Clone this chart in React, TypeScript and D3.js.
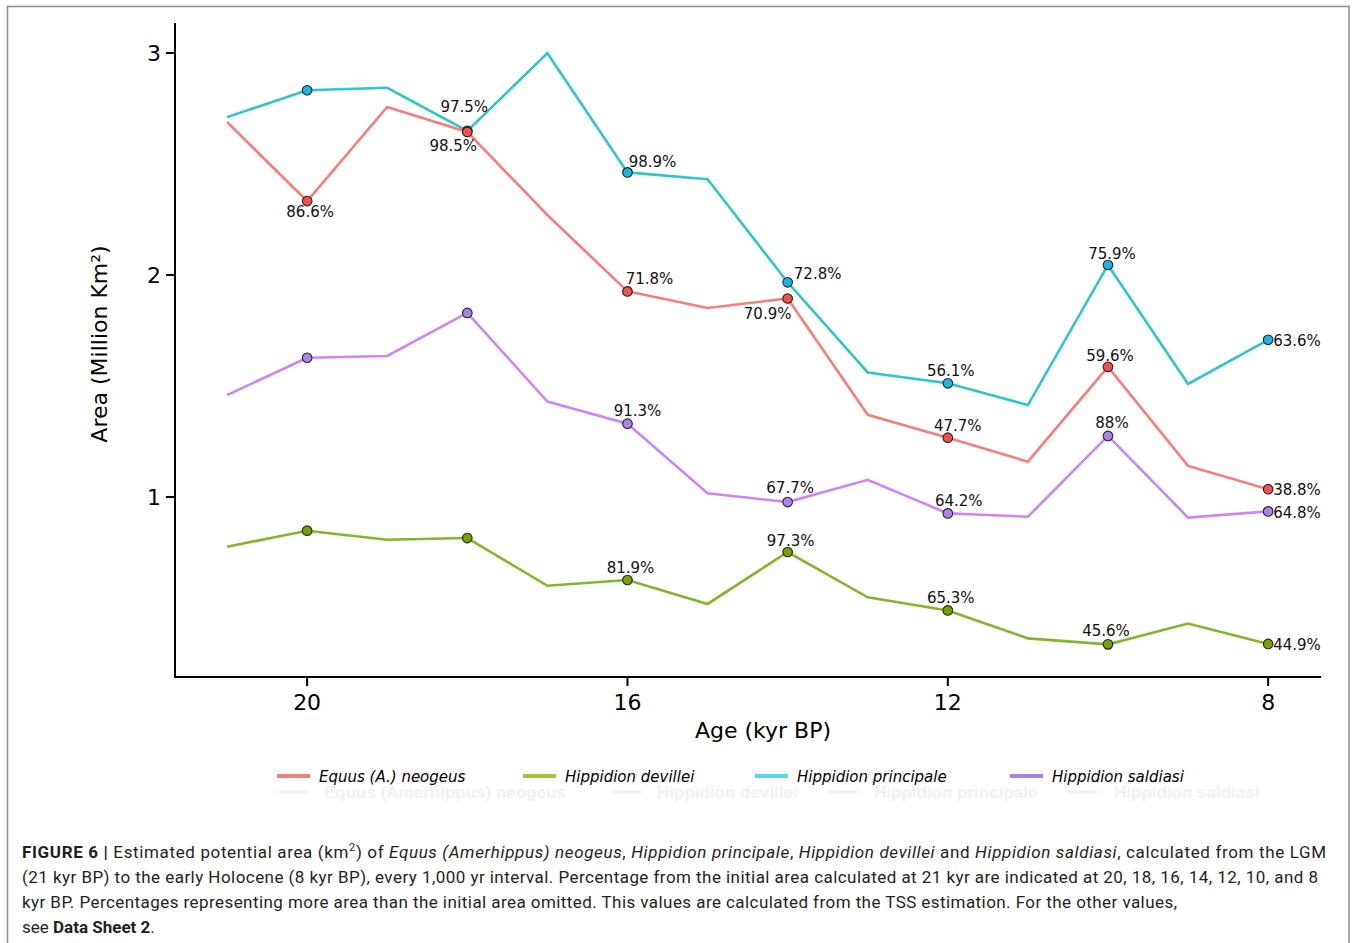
import React from "react";
import * as d3 from "d3";

// ---------- data ----------
const ages = [21, 20, 19, 18, 17, 16, 15, 14, 13, 12, 11, 10, 9, 8];
const equusNeogeus = [2.689, 2.333, 2.757, 2.644, 2.27, 1.926, 1.851, 1.894, 1.37, 1.267, 1.159, 1.586, 1.14, 1.035];
const hippidionDevillei = [0.776, 0.848, 0.807, 0.815, 0.6, 0.626, 0.518, 0.752, 0.548, 0.489, 0.363, 0.336, 0.43, 0.338];
const hippidionPrincipale = [2.711, 2.832, 2.843, 2.649, 2.999, 2.462, 2.431, 1.967, 1.561, 1.512, 1.414, 2.045, 1.509, 1.708];
const hippidionSaldiasi = [1.459, 1.627, 1.635, 1.829, 1.43, 1.33, 1.017, 0.977, 1.077, 0.926, 0.911, 1.275, 0.907, 0.935];

const markerAges = [20, 18, 16, 14, 12, 10, 8];
const equusPct = ["86.6%", "98.5%", "71.8%", "70.9%", "47.7%", "59.6%", "38.8%"];
const principalePct = ["", "97.5%", "98.9%", "72.8%", "56.1%", "75.9%", "63.6%"];
const saldiasiPct = ["", "", "91.3%", "67.7%", "64.2%", "88%", "64.8%"];
const devilleiPct = ["", "", "81.9%", "97.3%", "65.3%", "45.6%", "44.9%"];

const xTicks = [20, 16, 12, 8];
const yTicks = [1, 2, 3];
const legendNames = ["Equus (A.) neogeus", "Hippidion devillei", "Hippidion principale", "Hippidion saldiasi"];
const ghostLegendNames = ["Equus (Amerhippus) neogeus", "Hippidion devillei", "Hippidion principale", "Hippidion saldiasi"];

// ---------- label placement (offsets from marker, px) ----------
type Off = [number, number, string];
const equusOff: Off[] = [[3, 10, "middle"], [-14, 13.5, "middle"], [22, -12.5, "middle"], [-20, 15.5, "middle"], [10, -12.5, "middle"], [2, -11.5, "middle"], [5, 0, "start"]];
const principaleOff: Off[] = [[0, 0, "middle"], [-3, -24, "middle"], [25, -11, "middle"], [30, -8.5, "middle"], [3, -13, "middle"], [4, -11, "middle"], [5, 0.5, "start"]];
const saldiasiOff: Off[] = [[0, 0, "middle"], [0, 0, "middle"], [10, -13, "middle"], [2.5, -14.5, "middle"], [11, -13, "middle"], [4, -13, "middle"], [5, 0.8, "start"]];
const devilleiOff: Off[] = [[0, 0, "middle"], [0, 0, "middle"], [3, -12, "middle"], [3, -11.5, "middle"], [3, -12.7, "middle"], [-2, -14, "middle"], [5, 1, "start"]];

const FONT = "'DejaVu Sans', sans-serif";

const x = d3.scaleLinear().domain([21.65, 7.34]).range([175, 1321]);
const y = d3.scaleLinear().domain([0.189, 3.135]).range([677, 23]);

const series = [
  { key: "principale", values: hippidionPrincipale, line: "#2ec5cb", marker: "#1db5e6", pct: principalePct, off: principaleOff },
  { key: "equus", values: equusNeogeus, line: "#f67f76", marker: "#f24f4d", pct: equusPct, off: equusOff },
  { key: "saldiasi", values: hippidionSaldiasi, line: "#cc86f6", marker: "#a984ea", pct: saldiasiPct, off: saldiasiOff },
  { key: "devillei", values: hippidionDevillei, line: "#84b52a", marker: "#77a000", pct: devilleiPct, off: devilleiOff },
];

const legendColors = ["#f47d7d", "#a6c23a", "#5ad3f0", "#a284e0"];
const legendLineX = [277, 523, 755, 1010];
const ghostLineX = [278, 611, 828, 1068];

const lineGen = d3
  .line<number>()
  .x((_, i) => x(ages[i]))
  .y((v) => y(v));

const it = { fontStyle: "italic" as const };
const bold = { fontWeight: 700 as const };

export default function App() {
  return (
    <div style={{ position: "absolute", left: 0, top: 0 }}>
      <svg width={1357} height={943} style={{ display: "block", background: "#fff" }}>
        <rect x={7.5} y={6.5} width={1341.5} height={960} fill="#fff" stroke="#8c8c8c" strokeWidth={1.5} />

        {/* axes */}
        <line x1={175} x2={175} y1={23} y2={677} stroke="#000" strokeWidth={2} />
        <line x1={174} x2={1321} y1={677} y2={677} stroke="#000" strokeWidth={2} />
        {yTicks.map((t) => (
          <g key={"y" + t}>
            <line x1={166} x2={175} y1={y(t)} y2={y(t)} stroke="#000" strokeWidth={2} />
            <text x={161} y={y(t) + 8} textAnchor="end" fontFamily={FONT} fontSize={22} fill="#000">
              {t}
            </text>
          </g>
        ))}
        {xTicks.map((t) => (
          <g key={"x" + t}>
            <line x1={x(t)} x2={x(t)} y1={677} y2={686} stroke="#000" strokeWidth={2} />
            <text x={x(t)} y={710} textAnchor="middle" fontFamily={FONT} fontSize={22} fill="#000">
              {t}
            </text>
          </g>
        ))}
        <text x={763} y={738} textAnchor="middle" fontFamily={FONT} fontSize={22} fill="#000">
          Age (kyr BP)
        </text>
        <text transform="translate(107,344) rotate(-90)" textAnchor="middle" fontFamily={FONT} fontSize={22} fill="#000">
          Area (Million Km²)
        </text>

        {/* lines */}
        {series.map((s) => (
          <path key={"l" + s.key} d={lineGen(s.values) || ""} fill="none" stroke={s.line} strokeWidth={2.6} strokeLinejoin="miter" />
        ))}

        {/* markers */}
        {series.map((s) =>
          markerAges.map((a) => {
            const v = s.values[ages.indexOf(a)];
            return <circle key={s.key + a} cx={x(a)} cy={y(v)} r={4.8} fill={s.marker} stroke="#222" strokeWidth={1.1} />;
          })
        )}

        {/* percentage labels */}
        {series.map((s) =>
          markerAges.map((a, i) => {
            const t = s.pct[i];
            if (!t) return null;
            const v = s.values[ages.indexOf(a)];
            const [dx, dy, anchor] = s.off[i];
            return (
              <text key={"t" + s.key + a} x={x(a) + dx} y={y(v) + dy + 5.5} textAnchor={anchor} fontFamily={FONT} fontSize={15} fill="#111">
                {t}
              </text>
            );
          })
        )}

        {/* ghost legend (faint) */}
        {ghostLegendNames.map((n, i) => (
          <g key={"g" + n}>
            <line x1={ghostLineX[i]} x2={ghostLineX[i] + 30} y1={792} y2={792} stroke="#f1f1f1" strokeWidth={3} />
            <text x={ghostLineX[i] + 46} y={798} fontFamily="'Liberation Sans', sans-serif" fontWeight={700} fontSize={17} fill="#f1f1f1">
              {n}
            </text>
          </g>
        ))}

        {/* legend */}
        {legendNames.map((n, i) => (
          <g key={"lg" + n}>
            <line x1={legendLineX[i]} x2={legendLineX[i] + 33} y1={776} y2={776} stroke={legendColors[i]} strokeWidth={4} />
            <text x={legendLineX[i] + 42} y={781.5} fontFamily={FONT} fontStyle="italic" fontSize={15} fill="#000">
              {n}
            </text>
          </g>
        ))}

        {/* caption */}
        <g fontFamily="Roboto, 'Liberation Sans', sans-serif" fontSize={17} fill="#231f20">
          <text x={22} y={858} textLength={1304} lengthAdjust="spacing">
            <tspan style={bold}>FIGURE 6 |</tspan>
            <tspan>{" Estimated potential area (km"}</tspan>
            <tspan dy={-7} fontSize={11}>2</tspan>
            <tspan dy={7}>{") of "}</tspan>
            <tspan style={it}>Equus (Amerhippus) neogeus</tspan>
            <tspan>{", "}</tspan>
            <tspan style={it}>Hippidion principale</tspan>
            <tspan>{", "}</tspan>
            <tspan style={it}>Hippidion devillei</tspan>
            <tspan>{" and "}</tspan>
            <tspan style={it}>Hippidion saldiasi</tspan>
            <tspan>{", calculated from the LGM"}</tspan>
          </text>
          <text x={22} y={883} textLength={1296} lengthAdjust="spacing">
            (21 kyr BP) to the early Holocene (8 kyr BP), every 1,000 yr interval. Percentage from the initial area calculated at 21 kyr are indicated at 20, 18, 16, 14, 12, 10, and 8
          </text>
          <text x={22} y={908} textLength={1155} lengthAdjust="spacing">
            kyr BP. Percentages representing more area than the initial area omitted. This values are calculated from the TSS estimation. For the other values,
          </text>
          <text x={22} y={933}>
            <tspan>{"see "}</tspan>
            <tspan style={bold}>Data Sheet 2</tspan>
            <tspan>.</tspan>
          </text>
        </g>
      </svg>
    </div>
  );
}
